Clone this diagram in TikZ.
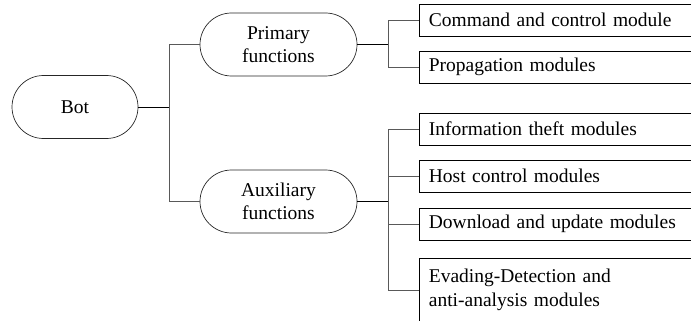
\documentclass[tikz,border=0pt]{standalone}
\usepackage{fontspec}
\setmainfont{Liberation Serif}
\begin{document}
\begin{tikzpicture}[x=1pt,y=-1pt,
  every node/.style={font=\fontsize{19.5}{23.5}\selectfont},
  stadium/.style={draw=black!85, line width=0.7pt, rounded corners=31.5pt,
    minimum height=63pt, align=center, inner sep=0pt},
  modbox/.style={draw=black, line width=0.8pt, minimum height=32pt, minimum width=290pt,
    text width=270pt, align=left, inner xsep=9.5pt, inner ysep=0pt, anchor=west},
  stub/.style={draw=black, line width=0.8pt},
  branch/.style={draw=black!65, line width=0.8pt}]
  \useasboundingbox (0,0) rectangle (691,321);
  \clip (0,0) rectangle (691,321);

  % root and the two function groups
  \node[stadium, minimum width=126pt] (bot) at (75,107) {Bot};
  \node[stadium, minimum width=157pt] (prim) at (278.5,44.5) {Primary\\functions};
  \node[stadium, minimum width=157pt] (aux) at (278.5,201.5) {Auxiliary\\functions};

  % module boxes (they run past the right edge)
  \node[modbox] (cc)   at (418.5,20)  {Command and control module};
  \node[modbox] (prop) at (418.5,67)  {Propagation modules};
  \node[modbox] (info) at (418.5,129) {Information theft modules};
  \node[modbox] (host) at (418.5,176) {Host control modules};
  \node[modbox] (dl)   at (418.5,224) {Download and update modules};
  \node[modbox, minimum height=64pt] (eva) at (418.5,290)
    {Evading-Detection and\\anti-analysis modules};

  % junction points of the tree
  \coordinate (j1) at (169,107);
  \coordinate (j2) at (388,44.5);
  \coordinate (j3) at (388,201.5);

  \draw[stub] (bot.east) -- (j1);
  \draw[branch] (prim.west) -| (j1);
  \draw[branch] (aux.west) -| (j1);

  \draw[stub] (prim.east) -- (j2);
  \draw[branch] (cc.west) -| (j2);
  \draw[branch] (prop.west) -| (j2);

  \draw[stub] (aux.east) -- (j3);
  \draw[branch] (info.west) -| (j3);
  \draw[branch] (host.west) -| (j3);
  \draw[branch] (dl.west) -| (j3);
  \draw[branch] (eva.west) -| (j3);
\end{tikzpicture}
\end{document}
